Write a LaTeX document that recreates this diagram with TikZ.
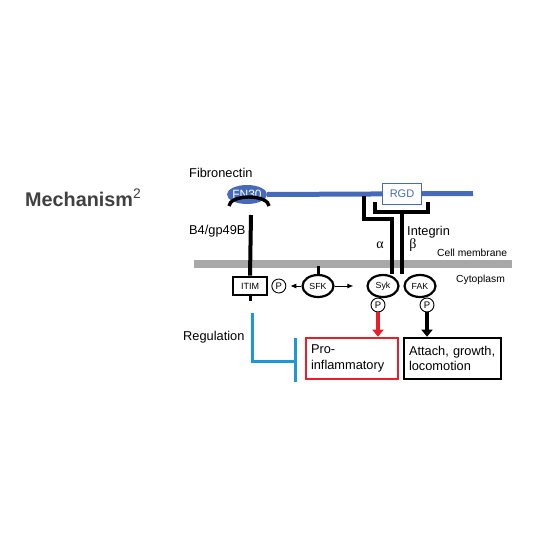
\documentclass[tikz,border=0pt]{standalone}
\usepackage{fontspec}
\setmainfont{Liberation Sans}
\newfontfamily\greekfont{Liberation Serif}
\usetikzlibrary{arrows.meta, positioning, shapes.geometric}
\definecolor{fnblue}{RGB}{70,106,186}
\definecolor{regblue}{RGB}{28,152,216}
\definecolor{prored}{RGB}{232,30,40}
\definecolor{membgray}{RGB}{168,168,168}
\definecolor{titlegray}{RGB}{64,64,64}
\tikzset{
    lbl/.style = {inner sep=0pt, font=\fontsize{12.8}{14}\selectfont},
    smalllbl/.style = {inner sep=0pt, font=\fontsize{10.3}{12}\selectfont},
    greek/.style = {inner sep=0pt, font=\fontsize{14}{14}\greekfont},
    enzyme/.style = {ellipse, draw, line width=2.2pt, minimum width=31pt,
                     minimum height=22pt, inner sep=0pt, font=\fontsize{8.8}{9}\selectfont},
    phos/.style = {circle, draw, line width=0.9pt, minimum size=14pt,
                   inner sep=0pt, font=\fontsize{9.5}{9}\selectfont},
    outcome/.style = {rectangle, draw, line width=2.6pt, minimum height=41pt,
                      inner xsep=5pt, align=left,
                      font=\fontsize{12.8}{15.5}\selectfont},
    chain/.style = {line width=4pt},
    link/.style = {line width=0.9pt, -{Latex[length=6pt,width=5pt]}},
    bigarrow/.style = {line width=4pt, -{Triangle[length=7pt,width=11pt]}}
    }

\begin{document}
\begin{tikzpicture}[
      x=1pt, y=-1pt, % one unit = one pixel of the reference
      line join=miter
    ]
    \useasboundingbox (0,0) rectangle (560,560);

    % title
    \node[anchor=west, inner sep=0pt, text=titlegray,
          font=\fontsize{19.8}{22}\selectfont\bfseries] (title) at (25,198)
          {Mechanism\textsuperscript{\mdseries 2}};

    % membrane
    \fill[membgray] (194,260) rectangle (512,268);
    \node[smalllbl, anchor=west] (memb) at (437,253) {Cell membrane};
    \node[smalllbl, anchor=west] (cyto) at (456,280) {Cytoplasm};

    % fibronectin
    \coordinate (fnend) at (473,193.5);
    \node[ellipse, fill=fnblue, minimum width=40pt, minimum height=19pt,
          inner sep=0pt] (fn) at (247,194.5) {};
    \draw[fnblue, line width=5pt] (fn.east) -- (fnend);
    \node[text=white, inner sep=0pt, font=\fontsize{12}{13}\selectfont] (fntext) at (fn) {FN30};
    \node[rectangle, draw=fnblue, fill=white, line width=1.6pt, text=fnblue,
          minimum width=39pt, minimum height=21pt, inner sep=0pt,
          font=\fontsize{11}{12}\selectfont] (rgd) at (402,194) {RGD};
    \node[lbl, anchor=west] (fibro) at (189,173) {Fibronectin};

    % B4/gp49B receptor
    \coordinate (cup) at (249,206);
    \coordinate (cupbot) at (251,215);
    \draw[line width=3.4pt] ([xshift=-20pt]cup) arc[start angle=180, end angle=360,
          x radius=20, y radius=9];
    \node[rectangle, draw, line width=2.8pt, minimum width=34pt, minimum height=18pt,
          inner sep=0pt, font=\fontsize{9}{9}\selectfont] (itim) at (250,286) {ITIM};
    \draw[chain] (cupbot) -- (itim.north);
    \draw[line width=3pt] (itim.south) -- ++(0,5);
    \node[lbl, anchor=west] (b4) at (189,231) {B4/gp49B};
    \node[phos, right=3pt of itim] (p1) {P};

    % kinases
    \node[enzyme] (sfk) at (318,286) {SFK};
    \node[enzyme] (syk) at (383,286) {Syk};
    \node[enzyme] (fak) at (420,286) {FAK};
    \draw[line width=3pt] (sfk.north) -- (sfk.north |- 0,266);
    \draw[link] (sfk.west) -- ([xshift=4pt]p1.east);
    \draw[link] (sfk.east) -- ([xshift=-13pt]syk.west);
    \node[phos] (p2) at (378,305) {P};
    \node[phos] (p3) at (427,305) {P};

    % integrin
    \coordinate (a1) at (364,196);
    \coordinate (a2) at (392,219);
    \coordinate (b1) at (375,202);
    \coordinate (b2) at (428,212);
    \coordinate (b3) at (402,212);
    \draw[chain] (a1) |- (a2) -- (a2 |- syk.north);
    \draw[chain] (b1) |- (b2) -- ++(0,-10);
    \draw[chain] (b3) -- (b3 |- fak.north);
    \node[lbl, anchor=west] (integ) at (407,232) {Integrin};
    \node[greek] (alpha) at (380,245) {α};
    \node[greek] (beta) at (413,245) {β};

    % outcomes
    \node[outcome, draw=prored, text width=82pt] (pro) at (352,358.5) {Pro-\\inflammatory};
    \node[outcome, text width=87pt] (attach) at (452.5,358.5) {Attach, growth,\\locomotion};
    \draw[bigarrow, prored] (p2.south) -- (p2.south |- pro.north);
    \draw[bigarrow] (p3.south) -- (p3.south |- attach.north);

    % regulation
    \coordinate (r1) at (252,313);
    \coordinate (r2) at (295,361);
    \draw[regblue, line width=3pt] (r1) |- (r2);
    \draw[regblue, line width=3pt] (295,338) -- (295,382);
    \node[lbl, anchor=west] (reg) at (183,337) {Regulation};
\end{tikzpicture}
\end{document}
